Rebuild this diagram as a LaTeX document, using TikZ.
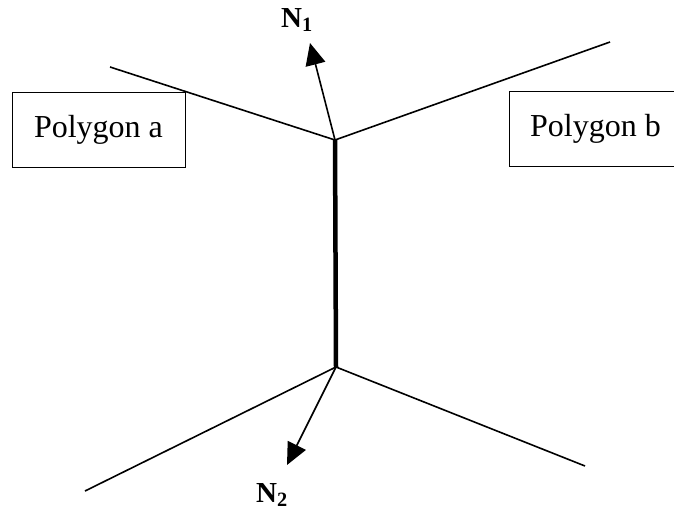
\documentclass[tikz,border=0pt]{standalone}
\usepackage{fontspec}
\setmainfont{Liberation Serif}
\usetikzlibrary{arrows.meta}
\tikzset{
  vtx/.style={coordinate},
  polybox/.style={draw, line width=1pt, minimum width=173pt, minimum height=75pt, inner sep=0pt, font=\fontsize{32}{36}\selectfont},
  edge/.style={line width=1.6pt},
  normal/.style={line width=1.6pt, -{Triangle[length=22pt,width=20pt]}},
  nlab/.style={font=\fontsize{29}{32}\selectfont\bfseries},
  every picture/.style={line cap=butt, line join=miter}
}

\begin{document}
\begin{tikzpicture}[x=1pt,y=-1pt]
  \clip (0,0) rectangle (674,511);
  \useasboundingbox (0,0) rectangle (674,511);
  \node[vtx] (top) at (335,140) {};
  \node[vtx] (bot) at (336,367) {};
  \node[vtx] (tl) at (110,67) {};
  \node[vtx] (tr) at (610,42) {};
  \node[vtx] (bl) at (85,491) {};
  \node[vtx] (br) at (585,466) {};
  \node[vtx] (n1) at (310,43) {};
  \node[vtx] (n2) at (287,465) {};
  \draw[edge] (tl)--(top)--(tr);
  \draw[edge] (bl)--(bot)--(br);
  \draw[line width=4.5pt] (top)--(bot);
  \draw[normal] (top)--(n1);
  \draw[normal] (bot)--(n2);
  \node[polybox] (pa) at (98.5,129.5) {Polygon a};
  \node[polybox] (pb) at (595.5,129) {Polygon b};
  \node[nlab] (l1) at (297,20) {N\textsubscript{1}};
  \node[nlab] (l2) at (272,495) {N\textsubscript{2}};
\end{tikzpicture}
\end{document}
